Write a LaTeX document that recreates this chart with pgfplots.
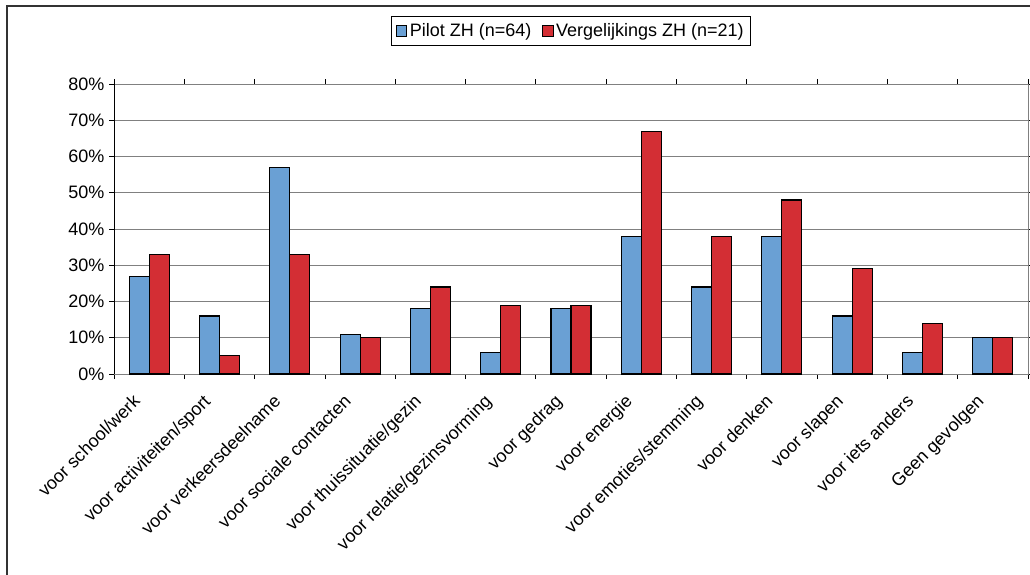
\documentclass[border=0pt]{standalone}
\usepackage{fontspec}
\setmainfont{Liberation Sans}
\usepackage{pgfplots}
\pgfplotsset{compat=1.18}
\definecolor{pilot}{RGB}{106,160,212}
\definecolor{verg}{RGB}{211,46,52}
\definecolor{gridgray}{RGB}{128,128,128}

\begin{document}
\begin{tikzpicture}
\useasboundingbox (0,0) rectangle (772.5pt,-430.5pt);
\draw[line width=1.2pt, black!80] (5.25pt,-4.5pt) rectangle (800pt,-460pt);
\begin{axis}[
    at={(85.5pt,-280.5pt)}, anchor=south west,
    scale only axis,
    width=685.5pt, height=217.5pt,
    ybar=0pt, bar width=15pt,
    xmin=-0.5, xmax=12.5,
    ymin=0, ymax=80,
    ytick={0,10,...,80},
    yticklabel={\pgfmathprintnumber{\tick}\%},
    /pgf/number format/assume math mode=true,
    xtick={0,...,12},
    xticklabels={voor school/werk, voor activiteiten/sport, voor verkeersdeelname,
        voor sociale contacten, voor thuissituatie/gezin, voor relatie/gezinsvorming,
        voor gedrag, voor energie, voor emoties/stemming, voor denken, voor slapen,
        voor iets anders, Geen gevolgen},
    major x tick style={draw=none},
    minor xtick={-0.5,0.5,...,12.5},
    tick align=outside,
    major tick length=3.75pt, minor tick length=3.75pt,
    tick style={black, line width=0.6pt},
    ymajorgrids,
    grid style={gridgray, line width=0.75pt},
    axis line style={gridgray, line width=0.75pt},
    tick label style={font=\fontsize{13.5}{15}\selectfont},
    xticklabel style={xshift=-13pt, yshift=-9pt, rotate=45, anchor=north east, inner sep=1pt},
    legend style={at={(0.5,1.183)}, anchor=center, legend columns=2,
        draw=black, line width=0.6pt, font=\fontsize{13.5}{15}\selectfont,
        inner xsep=3pt, inner ysep=3pt,
        /tikz/every even column/.append style={column sep=6pt}},
    legend image code/.code={\draw[#1, line width=0.6pt] (0pt,-4pt) rectangle (8pt,4pt);},
]
\addplot[fill=pilot, draw=black, line width=0.8pt] coordinates {
    (0,27) (1,16) (2,57) (3,11) (4,18) (5,6) (6,18)
    (7,38) (8,24) (9,38) (10,16) (11,6) (12,10)
};
\addplot[fill=verg, draw=black, line width=0.8pt] coordinates {
    (0,33) (1,5) (2,33) (3,10) (4,24) (5,19) (6,19)
    (7,67) (8,38) (9,48) (10,29) (11,14) (12,10)
};
\legend{Pilot ZH (n=64), Vergelijkings ZH (n=21)}
\draw[black, line width=0.75pt] (rel axis cs:0,0) -- (rel axis cs:0,1);
\end{axis}
\end{tikzpicture}
\end{document}
